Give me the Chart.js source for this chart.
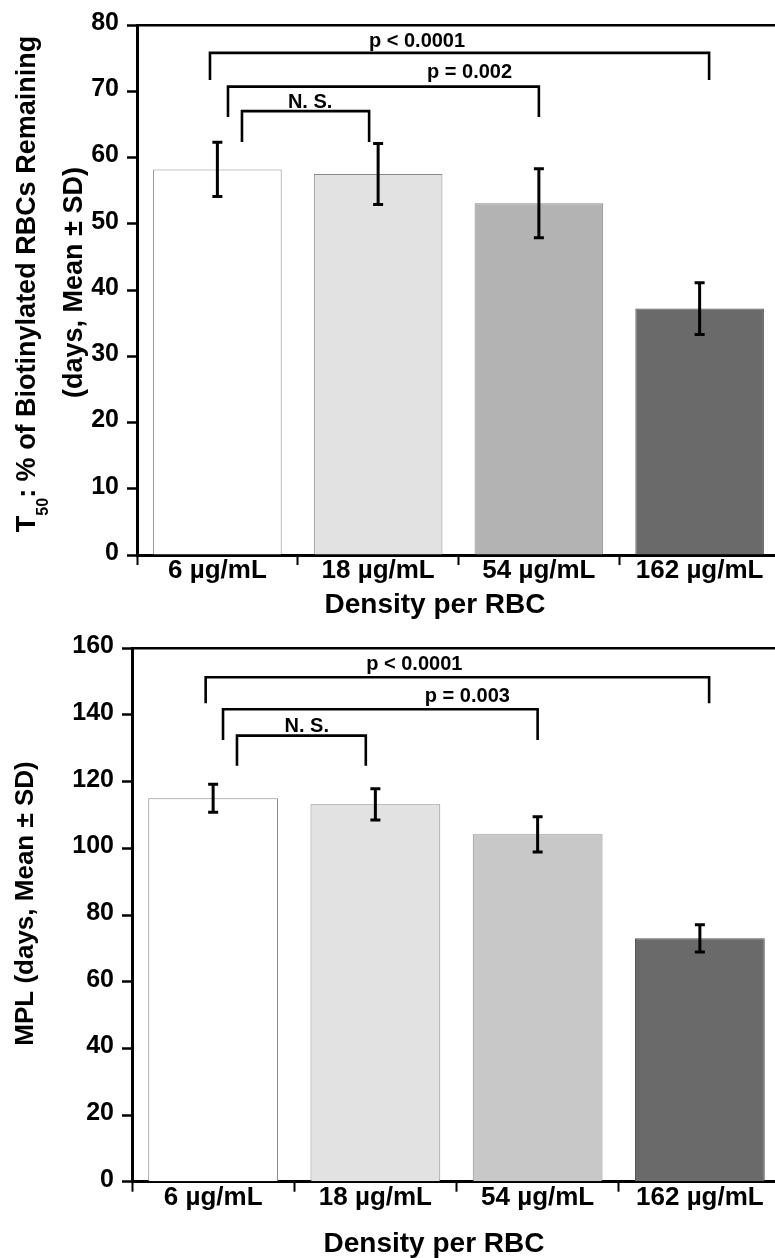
<!DOCTYPE html>
<html><head><meta charset="utf-8">
<script src="https://cdn.jsdelivr.net/npm/chart.js@4/dist/chart.umd.min.js"></script>
<style>
html,body{margin:0;padding:0;background:#fff;overflow:hidden;width:775px;height:1258px;}
#c1{position:absolute;left:0;top:0;}
#c2{position:absolute;left:0;top:620px;}
</style></head><body>
<canvas id="c1" width="790" height="620"></canvas>
<canvas id="c2" width="790" height="638"></canvas>
<script>
const FONT = '"Liberation Sans", Arial, Helvetica, sans-serif';

// ---- data ----
const categories = ['6 µg/mL', '18 µg/mL', '54 µg/mL', '162 µg/mL'];
const t50Means = [58.2, 57.5, 53.1, 37.2];
const t50SD    = [4.1, 4.6, 5.2, 3.9];
const mplMeans = [115.0, 113.2, 104.2, 73.0];
const mplSD    = [4.2, 4.7, 5.3, 4.1];
const xTitle = 'Density per RBC';
const t50TitleLine1 = [['T', false], ['50', true], [': % of Biotinylated RBCs Remaining', false]];
const t50TitleLine2 = '(days, Mean ± SD)';
const mplTitle = 'MPL (days, Mean ± SD)';
// comparison brackets: [from category, to category, p label]
const t50Comparisons = [[0, 3, 'p < 0.0001'], [0, 2, 'p = 0.002'], [0, 1, 'N. S.']];
const mplComparisons = [[0, 3, 'p < 0.0001'], [0, 2, 'p = 0.003'], [0, 1, 'N. S.']];

// ---- annotation geometry (data units) ----
const t50BracketGeom = [
  {dx1:-0.046, dx2: 0.059, y:75.8, legY:71.7, lx:1.242, ly:76.7},
  {dx1: 0.066, dx2: 0.0,   y:70.7, legY:66.1, lx:1.569, ly:71.95},
  {dx1: 0.153, dx2:-0.056, y:67.0, legY:62.35, lx:0.577, ly:67.43}
];
const mplBracketGeom = [
  {dx1:-0.046, dx2: 0.057, y:151.3, legY:143.5, lx:1.240, ly:153.5},
  {dx1: 0.061, dx2: 0.0,   y:141.7, legY:132.5, lx:1.567, ly:144.0},
  {dx1: 0.147, dx2:-0.059, y:133.8, legY:124.8, lx:0.577, ly:135.0}
];

const errorBarPlugin = {
  id: 'errorBars',
  afterDatasetsDraw(chart, args, opts) {
    const ctx = chart.ctx, y = chart.scales.y, meta = chart.getDatasetMeta(0);
    const vals = chart.data.datasets[0].data;
    ctx.save();
    ctx.strokeStyle = '#000'; ctx.lineWidth = 3; ctx.lineCap = 'butt';
    opts.sd.forEach((sd, i) => {
      const x = meta.data[i].x;
      const t = y.getPixelForValue(vals[i] + sd), b = y.getPixelForValue(vals[i] - sd);
      ctx.beginPath();
      ctx.moveTo(x, t); ctx.lineTo(x, b);
      ctx.moveTo(x - 5, t); ctx.lineTo(x + 5, t);
      ctx.moveTo(x - 5, b); ctx.lineTo(x + 5, b);
      ctx.stroke();
    });
    ctx.restore();
  }
};

const bracketPlugin = {
  id: 'brackets',
  afterDraw(chart, args, opts) {
    const ctx = chart.ctx, xs = chart.scales.x, ys = chart.scales.y;
    ctx.save();
    ctx.strokeStyle = '#000'; ctx.fillStyle = '#000'; ctx.lineWidth = 2.6;
    ctx.font = 'bold 20px ' + FONT;
    ctx.textAlign = 'center'; ctx.textBaseline = 'alphabetic';
    opts.items.forEach((c, k) => {
      const g = opts.geom[k];
      const x1 = xs.getPixelForValue(c[0] + g.dx1), x2 = xs.getPixelForValue(c[1] + g.dx2);
      const yy = ys.getPixelForValue(g.y), yl = ys.getPixelForValue(g.legY);
      ctx.beginPath();
      ctx.moveTo(x1, yl); ctx.lineTo(x1, yy); ctx.lineTo(x2, yy); ctx.lineTo(x2, yl);
      ctx.stroke();
      ctx.fillText(c[2], xs.getPixelForValue(g.lx), ys.getPixelForValue(g.ly));
    });
    ctx.restore();
  }
};

const titlePlugin = {
  id: 'axisTitles',
  afterDraw(chart, args, o) {
    const ctx = chart.ctx;
    ctx.save();
    ctx.fillStyle = '#000'; ctx.textBaseline = 'alphabetic';
    // x title
    ctx.font = 'bold ' + o.xSize + 'px ' + FONT;
    ctx.textAlign = 'center';
    ctx.fillText(o.xText, o.xCx, o.xBase);
    // y title lines (rotated)
    ctx.textAlign = 'left';
    o.yLines.forEach(line => {
      const parts = typeof line.parts === 'string' ? [[line.parts, false]] : line.parts;
      let total = 0;
      parts.forEach(p => { ctx.font = 'bold ' + (p[1] ? o.subSize : o.ySize) + 'px ' + FONT; total += ctx.measureText(p[0]).width; });
      ctx.save();
      ctx.translate(line.bx, line.cy);
      ctx.rotate(-Math.PI / 2);
      let x = -total / 2;
      parts.forEach(p => {
        ctx.font = 'bold ' + (p[1] ? o.subSize : o.ySize) + 'px ' + FONT;
        ctx.fillText(p[0], x, p[1] ? o.subShift : 0);
        x += ctx.measureText(p[0]).width;
      });
      ctx.restore();
    });
    ctx.restore();
  }
};

function buildChart(id, o) {
  return new Chart(document.getElementById(id), {
    type: 'bar',
    data: {
      labels: categories,
      datasets: [{
        data: o.means, xAxisID: 'x', yAxisID: 'y',
        backgroundColor: o.colors, borderColor: o.borders, borderWidth: 1,
        categoryPercentage: 0.8, barPercentage: 1.0
      }]
    },
    options: {
      responsive: false, animation: false, devicePixelRatio: 1,
      layout: { padding: { top: o.padTop, right: o.padRight, left: 0, bottom: 0 } },
      plugins: {
        legend: { display: false }, tooltip: { enabled: false },
        errorBars: { sd: o.sd },
        brackets: { items: o.comparisons, geom: o.geom },
        axisTitles: o.titles
      },
      scales: {
        x: {
          type: 'category', offset: true, position: 'bottom',
          grid: { offset: true, drawOnChartArea: false, drawTicks: true, tickLength: 10, tickWidth: 2, tickColor: '#000' },
          border: { display: true, color: '#000', width: 3 },
          ticks: { color: '#000', font: { family: FONT, size: 26, weight: 'bold', lineHeight: 1.2 }, padding: o.xPad, maxRotation: 0, autoSkip: false },
          afterFit: s => { s.height = o.xHeight; }
        },
        x2: {
          type: 'category', labels: categories, position: 'top', offset: true,
          ticks: { display: false },
          grid: { drawOnChartArea: false, drawTicks: false },
          border: { display: true, color: '#000', width: 2.6 },
          afterFit: s => { s.height = 0; }
        },
        y: {
          min: 0, max: o.max,
          ticks: { stepSize: o.step, color: '#000', font: { family: FONT, size: 25, weight: 'bold' }, padding: 8, labelOffset: -2 },
          grid: { drawOnChartArea: false, drawTicks: true, tickLength: 10, tickWidth: 2.5, tickColor: '#000' },
          border: { display: true, color: '#000', width: 3 },
          afterFit: s => { s.width = o.yWidth; }
        }
      }
    },
    plugins: [errorBarPlugin, bracketPlugin, titlePlugin]
  });
}

buildChart('c1', {
  means: t50Means, sd: t50SD, max: 80, step: 10,
  colors: ['#ffffff', '#e2e2e2', '#b3b3b3', '#6a6a6a'],
  borders: ['#8a8a8a', '#8a8a8a', '#8a8a8a', '#555555'],
  padTop: 25, padRight: 10, yWidth: 137, xHeight: 65, xPad: -10,
  comparisons: t50Comparisons, geom: t50BracketGeom,
  titles: {
    xText: xTitle, xSize: 28, xCx: 435, xBase: 613,
    ySize: 27, subSize: 16, subShift: 13,
    yLines: [ { parts: t50TitleLine1, bx: 35, cy: 284 }, { parts: t50TitleLine2, bx: 81.7, cy: 282.5 } ]
  }
});

buildChart('c2', {
  means: mplMeans, sd: mplSD, max: 160, step: 20,
  colors: ['#ffffff', '#e2e2e2', '#c8c8c8', '#6a6a6a'],
  borders: ['#8a8a8a', '#8a8a8a', '#8a8a8a', '#555555'],
  padTop: 28.3, padRight: 9, yWidth: 132, xHeight: 76.3, xPad: -9,
  comparisons: mplComparisons, geom: mplBracketGeom,
  titles: {
    xText: xTitle, xSize: 28, xCx: 434, xBase: 632,
    ySize: 26, subSize: 16, subShift: 13,
    yLines: [ { parts: mplTitle, bx: 33, cy: 283.5 } ]
  }
});
</script>
</body></html>
